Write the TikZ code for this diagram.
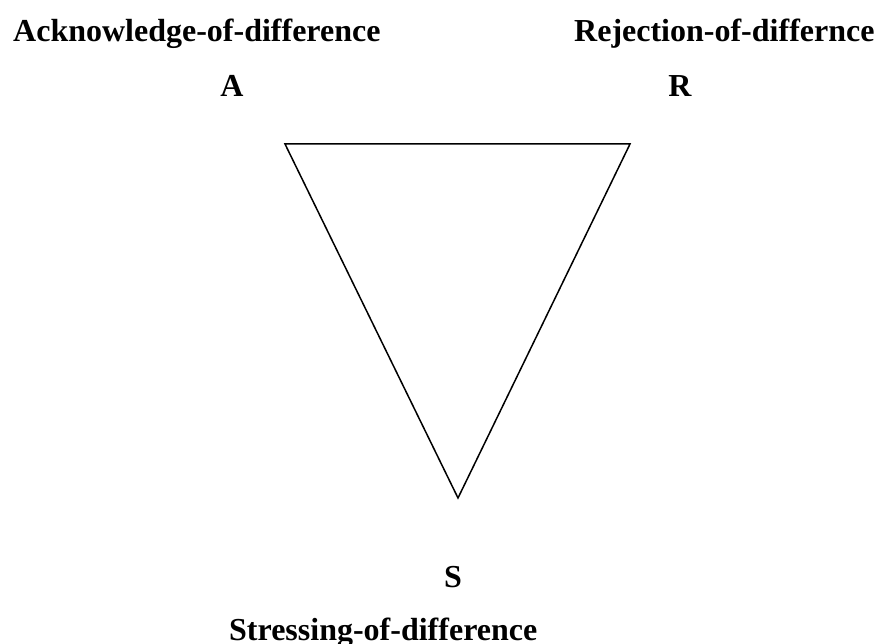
\documentclass[tikz,border=0pt]{standalone}
\usepackage{fontspec}
\setmainfont{Liberation Serif}
\begin{document}
\begin{tikzpicture}[x=1pt,y=-1pt,
  lbl/.style={inner sep=0pt,font=\fontsize{32}{38}\selectfont\bfseries},
  tri/.style={draw=black,line width=1.5pt,line join=miter}]
\useasboundingbox (0,0) rectangle (877,644);
\node[lbl,anchor=base west] (ack) at (13,42) {Acknowledge-of-difference};
\node[lbl,anchor=base west] (rej) at (574,42) {Rejection-of-differnce};
\node[lbl,anchor=base] (A) at (232,97) {A};
\node[lbl,anchor=base] (R) at (680,97) {R};
\node[lbl,anchor=base] (S) at (453,587) {S};
\node[lbl,anchor=base west] (str) at (229,640) {Stressing-of-difference};
\coordinate (ta) at (285,144);
\coordinate (tr) at (630,144);
\coordinate (tb) at (458,498);
\draw[tri] (ta) -- (tr) -- (tb) -- cycle;
\end{tikzpicture}
\end{document}
